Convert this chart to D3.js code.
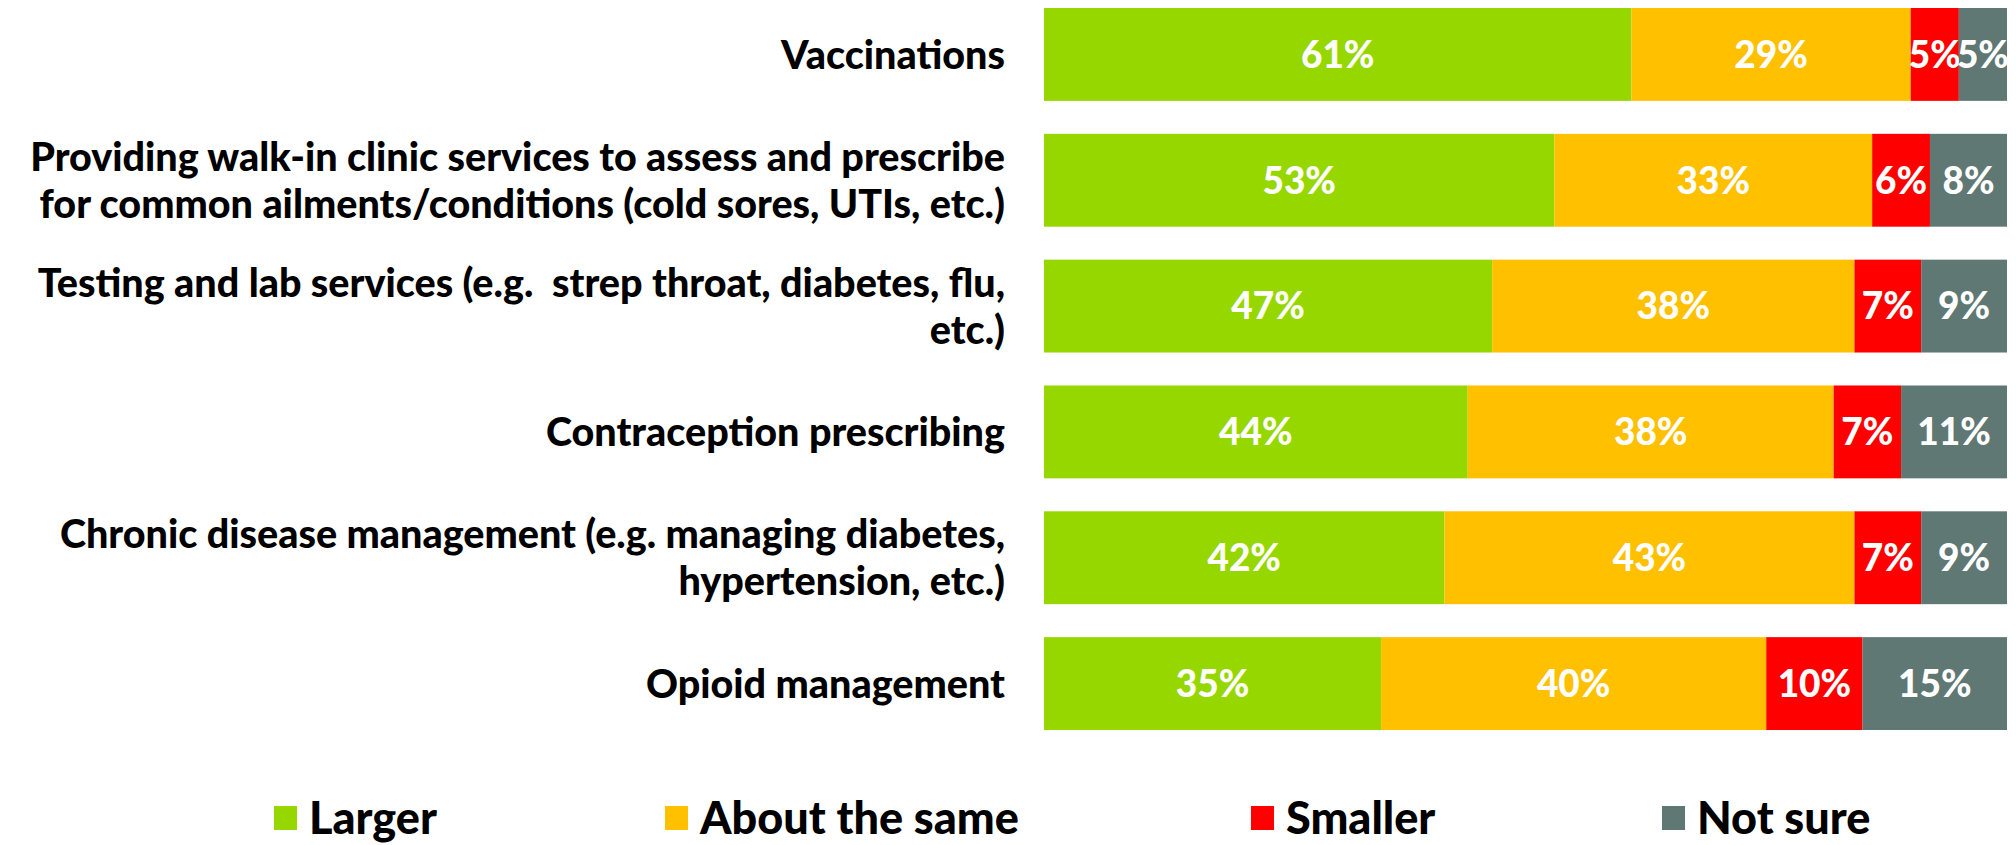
<!DOCTYPE html>
<html>
<head>
<meta charset="utf-8">
<script src="https://cdn.jsdelivr.net/npm/d3@7"></script>
<style>
  body { margin: 0; background: #fff; }
  svg { display: block; }
  text { font-family: Lato, "Open Sans", sans-serif; font-weight: 900; }
</style>
</head>
<body>
<div class="chart"></div>
<script>
// survey answers, one row per service (values in %)
const categories = [
  "Vaccinations",
  "Providing walk-in clinic services to assess and prescribe\nfor common ailments/conditions (cold sores, UTIs, etc.)",
  "Testing and lab services (e.g.  strep throat, diabetes, flu,\netc.)",
  "Contraception prescribing",
  "Chronic disease management (e.g. managing diabetes,\nhypertension, etc.)",
  "Opioid management"
]
const seriesNames = ["Larger", "About the same", "Smaller", "Not sure"]
const larger = [61, 53, 47, 44, 42, 35]
const aboutSame = [29, 33, 38, 38, 43, 40]
const smaller = [5, 6, 7, 7, 7, 10]
const notSure = [5, 8, 9, 11, 9, 15]
const colors = ["#97d700", "#ffc000", "#ff0000", "#5f7874"]

const width = 2016, height = 845

const svg = d3.select(".chart")
  .append("svg")
  .attr("width", width)
  .attr("height", height)

// table for the stack
const rows = categories.map((c, i) => ({
  cat: c,
  "Larger": larger[i],
  "About the same": aboutSame[i],
  "Smaller": smaller[i],
  "Not sure": notSure[i]
}))

const stack = d3.stack()
  .keys(seriesNames)
  .offset(d3.stackOffsetExpand)
const layers = stack(rows)

const x = d3.scaleLinear()
  .domain([0, 1])
  .range([1044, 2007])

const y = d3.scaleBand()
  .domain(categories)
  .range([8, 730])
  .paddingInner(0.262)
  .paddingOuter(0)

const color = d3.scaleOrdinal()
  .domain(seriesNames)
  .range(colors)

// bars
const groups = svg.append("g")
  .selectAll("g")
  .data(layers)
  .join("g")
  .attr("fill", d => color(d.key))

groups.selectAll("rect")
  .data(d => d.map(v => ({key: d.key, v: v})))
  .join("rect")
  .attr("x", d => x(d.v[0]))
  .attr("y", d => y(d.v.data.cat))
  .attr("width", d => x(d.v[1]) - x(d.v[0]))
  .attr("height", y.bandwidth())

// value labels
groups.selectAll("text")
  .data(d => d.map(v => ({key: d.key, v: v})))
  .join("text")
  .attr("x", d => (x(d.v[0]) + x(d.v[1])) / 2)
  .attr("y", d => y(d.v.data.cat) + y.bandwidth() / 2)
  .attr("dy", "0.36em")
  .attr("text-anchor", "middle")
  .attr("fill", "#fff")
  .attr("font-size", "37px")
  .text(d => d.v.data[d.key] + "%")

// category labels
const lineGap = 47
const labels = svg.append("g")
  .attr("xml:space", "preserve")
  .selectAll("text")
  .data(categories)
  .join("text")
  .attr("text-anchor", "end")
  .attr("font-size", "39.5px")
  .attr("fill", "#000")

labels.each(function(c) {
  const lines = c.split("\n")
  const cy = y(c) + y.bandwidth() / 2
  const start = cy - (lines.length - 1) * lineGap / 2
  d3.select(this).selectAll("tspan")
    .data(lines)
    .join("tspan")
    .attr("x", 1005)
    .attr("y", (d, i) => start + i * lineGap)
    .attr("dy", "0.36em")
    .style("white-space", "pre")
    .text(d => d)
})

// legend (kept just inside the bottom edge)
const legendX = [274, 665, 1251, 1662]
const legend = svg.append("g")
  .selectAll("g")
  .data(seriesNames)
  .join("g")
  .attr("transform", (d, i) => `translate(${legendX[i]},806)`)

legend.append("rect")
  .attr("width", 23)
  .attr("height", 24)
  .attr("fill", d => color(d))

legend.append("text")
  .attr("x", 35)
  .attr("y", 12)
  .attr("dy", "0.36em")
  .attr("font-size", "45px")
  .attr("fill", "#000")
  .text(d => d)
</script>
</body>
</html>
